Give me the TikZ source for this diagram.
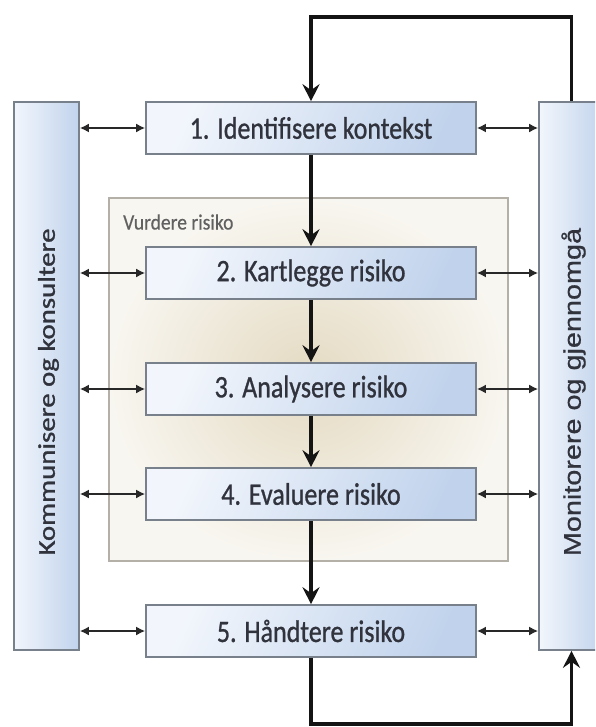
\documentclass[tikz,border=0pt]{standalone}
\usepackage{graphicx}
\usepackage{fontspec}
\setmainfont{Carlito}[FakeBold=0.5]
\newfontfamily\heavyf{Carlito}[FakeBold=1.0]
\newfontfamily\arialf{Liberation Sans}[FakeBold=0.6]
\usetikzlibrary{arrows.meta,shadings}
\definecolor{boxlight}{RGB}{242,246,252}
\definecolor{boxdark}{RGB}{193,211,236}
\definecolor{boxedge}{RGB}{120,128,140}
\definecolor{txt}{RGB}{48,50,60}
\definecolor{beigeout}{RGB}{248,246,240}
\definecolor{beigein}{RGB}{228,218,194}
\definecolor{beigeedge}{RGB}{180,176,168}
\definecolor{lnk}{RGB}{20,20,20}
\definecolor{dlnk}{RGB}{40,40,40}
\newcommand{\tallt}[1]{\scalebox{1}[1.2]{#1}}
\newcommand{\longt}[1]{\scalebox{1.2}[1]{#1}}
\tikzset{
  stepbox/.style={draw=boxedge, line width=1.6pt, shading=axis, top color=boxlight, bottom color=boxdark, shading angle=65,
    minimum width=330pt, minimum height=52pt, inner sep=0pt, text=txt, font=\heavyf\fontsize{26}{30}\selectfont},
  colbox/.style={draw=boxedge, line width=1.6pt, shading=axis, left color=boxlight, right color=boxdark,
    minimum width=65pt, minimum height=548pt, inner sep=0pt, text=txt},
  flow/.style={draw=lnk, line width=3.4pt, -{Stealth[length=17pt,width=17pt,inset=6pt]}},
  dbl/.style={draw=dlnk, line width=2.1pt, {Latex[length=9pt,width=9pt]}-{Latex[length=9pt,width=9pt]}},
  loopline/.style={draw=lnk, line width=3.4pt}
}
\begin{document}
\begin{tikzpicture}[x=1pt,y=-1pt]
\useasboundingbox (0,0) rectangle (595,727);
\clip (0,0) rectangle (595,727);
\fill[white] (0,0) rectangle (595,727);
% Vurdere risiko region
\node[draw=beigeedge, line width=1.4pt, inner color=beigein, outer color=beigeout, minimum width=399pt, minimum height=363pt, inner sep=0pt] (vr) at (308.5,379.5) {};
\node[anchor=west, inner sep=0pt, text=black!62, font=\fontsize{19}{22}\selectfont] (vrl) at (123,222) {\scalebox{1.03}[1.15]{Vurdere risiko}};
% columns
\node[colbox] (L) at (46.5,376) {};
\node[rotate=90, text=txt, font=\heavyf\fontsize{24}{28}\selectfont] (Lt) at ([shift={(2,16)}]L.center) {\longt{Kommunisere og konsultere}};
\node[colbox] (R) at (571.5,376) {};
\node[rotate=90, text=txt, font=\arialf\fontsize{24}{28}\selectfont] (Rt) at ([shift={(2,16)}]R.center) {\longt{Monitorere og gjennomgå}};
% step boxes
\node[stepbox] (b1) at (311,128) {\tallt{1. Identifisere kontekst}};
\node[stepbox] (b2) at (311,273) {\tallt{2. Kartlegge risiko}};
\node[stepbox] (b3) at (311,389) {\tallt{3. Analysere risiko}};
\node[stepbox] (b4) at (311,494) {\tallt{4. Evaluere risiko}};
\node[stepbox] (b5) at (311,631) {\tallt{5. Håndtere risiko}};
% flow arrows
\draw[flow] (b1) -- (b2);
\draw[flow] (b2) -- (b3);
\draw[flow] (b3) -- (b4);
\draw[flow] (b4) -- (b5);
% loops
\coordinate (topy) at (0,17);
\coordinate (boty) at (0,724);
\draw[loopline, line join=miter] (R.north) -- (R.north |- topy) -- (b1.north |- topy);
\draw[flow] (b1.north |- topy) ++(0,-1.7) -- (b1.north);
\draw[loopline, line join=miter] (b5.south) -- (b5.south |- boty) -- (R.south |- boty);
\draw[flow] (R.south |- boty) ++(0,1.7) -- (R.south);
% double arrows
\foreach \b in {b1,b2,b3,b4,b5}{
  \draw[dbl] (L.east |- \b.west) -- (\b.west);
  \draw[dbl] (\b.east) -- (R.west |- \b.east);
}
\end{tikzpicture}
\end{document}
